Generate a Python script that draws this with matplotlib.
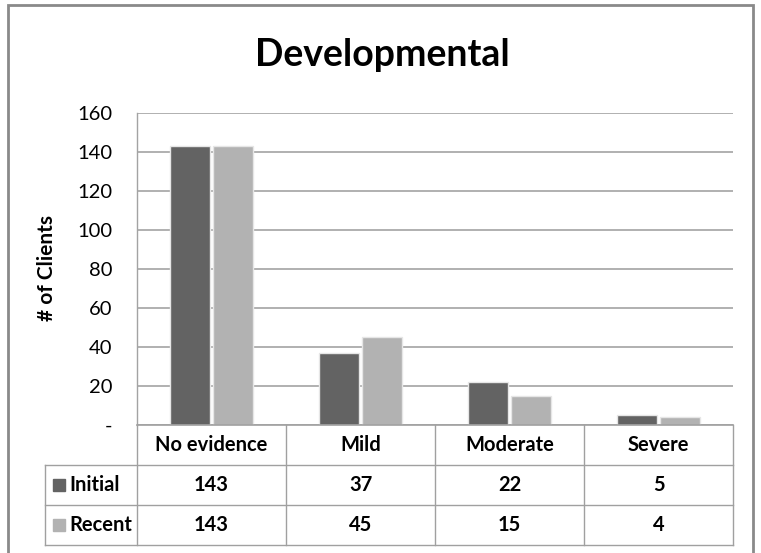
import matplotlib
matplotlib.use("Agg")
import matplotlib.pyplot as plt
from matplotlib.patches import Rectangle

plt.rcParams['font.family'] = ['Lato', 'DejaVu Sans']

categories = ['No evidence', 'Mild', 'Moderate', 'Severe']
initial = [143, 37, 22, 5]
recent = [143, 45, 15, 4]
series_names = ['Initial', 'Recent']
yticks = [0, 20, 40, 60, 80, 100, 120, 140, 160]
ytick_labels = ['-', '20', '40', '60', '80', '100', '120', '140', '160']

dark = '#636363'
light = '#b2b2b2'
grid_col = '#a3a3a3'

W, H = 761, 553
fig = plt.figure(figsize=(W / 100, H / 100), dpi=100)


def box(x0, y0, x1, y1):
    # pixel box (top-left origin) -> figure fraction rect
    return [x0 / W, 1 - y1 / H, (x1 - x0) / W, (y1 - y0) / H]


# outer chart frame
fig.patches.append(Rectangle((8 / W, -0.05), (753 - 8) / W, 1 - 5 / H + 0.05,
                             transform=fig.transFigure, fill=False,
                             edgecolor='#8a8a8a', linewidth=2))

fig.text(382 / W, 1 - 55 / H, 'Developmental', ha='center', va='center',
         fontsize=27, fontweight='bold')

ax = fig.add_axes(box(137, 113, 733, 425))
x = range(len(categories))
bw = 0.272
off = 0.143
ax.bar([i - off for i in x], initial, width=bw, color=dark,
       edgecolor='#e6e6e6', linewidth=1, zorder=3)
ax.bar([i + off for i in x], recent, width=bw, color=light,
       edgecolor='#e6e6e6', linewidth=1, zorder=3)
ax.set_xlim(-0.5, 3.5)
ax.set_ylim(0, 160)
ax.set_yticks(yticks)
ax.set_yticklabels(ytick_labels, fontsize=14.5)
ax.tick_params(axis='y', length=0, pad=18)
ax.set_xticks([])
ax.yaxis.grid(True, color=grid_col, linewidth=1.2, zorder=0)
for s in ['top', 'right', 'bottom']:
    ax.spines[s].set_visible(False)
ax.spines['left'].set_color(grid_col)
ax.spines['left'].set_linewidth(1)

fig.text(47 / W, 1 - 268 / H, '# of Clients', rotation=90, ha='center',
         va='center', fontsize=15, fontweight='bold')

# data table under the bars
tab = fig.add_axes(box(137, 425, 733, 545))
tab.set_xlim(-0.5, 3.5)
tab.set_ylim(0, 3)
tab.axis('off')
left_edge = -0.5 - (137 - 45) / 149
lc = '#a0a0a0'
tab.plot([-0.5, 3.5], [3, 3], color=lc, lw=1.2, clip_on=False)
for yy in [2, 1, 0]:
    tab.plot([left_edge, 3.5], [yy, yy], color=lc, lw=1, clip_on=False)
for xx in [-0.5, 0.5, 1.5, 2.5, 3.5]:
    tab.plot([xx, xx], [0, 3], color=lc, lw=1, clip_on=False)
tab.plot([left_edge, left_edge], [0, 2], color=lc, lw=1, clip_on=False)

for i, c in enumerate(categories):
    tab.text(i, 2.5, c, ha='center', va='center', fontsize=14.5, fontweight='bold')
    tab.text(i, 1.5, str(initial[i]), ha='center', va='center', fontsize=14.5,
             fontweight='bold')
    tab.text(i, 0.5, str(recent[i]), ha='center', va='center', fontsize=14.5,
             fontweight='bold')

sq = 12 / 149
for row, name, col in [(1.5, series_names[0], dark), (0.5, series_names[1], light)]:
    tab.add_patch(Rectangle((left_edge + 8 / 149, row - 0.15), sq, 0.3,
                            color=col, clip_on=False))
    tab.text(left_edge + 24 / 149, row, name, ha='left', va='center',
             fontsize=14.5, fontweight='bold')

fig.savefig('out.png', dpi=100)
